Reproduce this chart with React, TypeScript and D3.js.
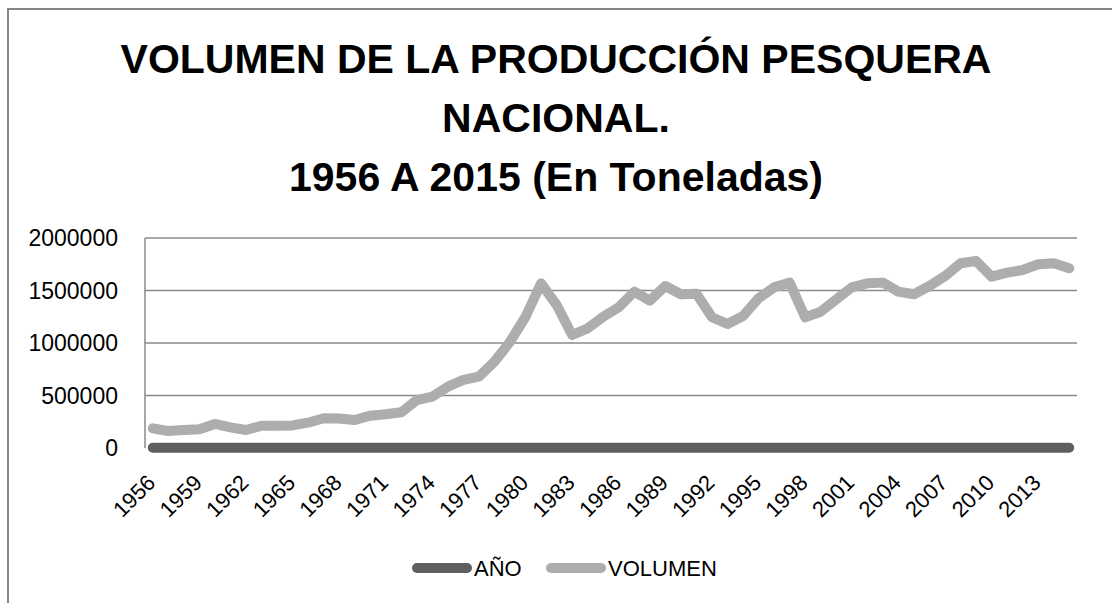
import React from 'react';
import * as d3 from 'd3';

const titleLines = ['VOLUMEN DE LA PRODUCCIÓN PESQUERA', 'NACIONAL.', '1956 A 2015 (En Toneladas)'];

const years = [
  1956, 1957, 1958, 1959, 1960, 1961, 1962, 1963, 1964, 1965,
  1966, 1967, 1968, 1969, 1970, 1971, 1972, 1973, 1974, 1975,
  1976, 1977, 1978, 1979, 1980, 1981, 1982, 1983, 1984, 1985,
  1986, 1987, 1988, 1989, 1990, 1991, 1992, 1993, 1994, 1995,
  1996, 1997, 1998, 1999, 2000, 2001, 2002, 2003, 2004, 2005,
  2006, 2007, 2008, 2009, 2010, 2011, 2012, 2013, 2014, 2015,
];

// AÑO series: the year itself (plotted as a value, sits on the zero line)
const anio = [
  1956, 1957, 1958, 1959, 1960, 1961, 1962, 1963, 1964, 1965,
  1966, 1967, 1968, 1969, 1970, 1971, 1972, 1973, 1974, 1975,
  1976, 1977, 1978, 1979, 1980, 1981, 1982, 1983, 1984, 1985,
  1986, 1987, 1988, 1989, 1990, 1991, 1992, 1993, 1994, 1995,
  1996, 1997, 1998, 1999, 2000, 2001, 2002, 2003, 2004, 2005,
  2006, 2007, 2008, 2009, 2010, 2011, 2012, 2013, 2014, 2015,
];

const volumen = [
  187000, 162000, 171000, 178000, 229000, 197000, 171000, 212000, 212000, 215000,
  241000, 283000, 280000, 267000, 308000, 321000, 340000, 457000, 489000, 584000,
  648000, 679000, 822000, 1012000, 1250000, 1568000, 1362000, 1076000, 1140000, 1250000,
  1340000, 1489000, 1403000, 1543000, 1464000, 1470000, 1245000, 1181000, 1257000, 1426000,
  1530000, 1575000, 1245000, 1298000, 1416000, 1530000, 1568000, 1575000, 1489000, 1464000,
  1543000, 1638000, 1759000, 1781000, 1632000, 1670000, 1695000, 1750000, 1759000, 1711000,
];

const yTicks = [0, 500000, 1000000, 1500000, 2000000];
const seriesNames = ['AÑO', 'VOLUMEN'];
const seriesColors = ['#5f5f5f', '#adadad'];

const W = 1112, H = 603;
const left = 145, right = 1077, top = 238, bottom = 448;
const font = '"Liberation Sans", Arial, sans-serif';

export default function App() {
  const x = d3.scaleBand<number>().domain(years).range([left, right]);
  const y = d3.scaleLinear().domain([0, 2000000]).range([bottom, top]);
  const cx = (yr: number) => (x(yr) as number) + x.bandwidth() / 2;

  const line = d3.line<number>()
    .x((_, i) => cx(years[i]))
    .y(d => y(d));

  const series = [anio, volumen];
  const xLabels = years.filter((_, i) => i % 3 === 0);

  return (
    <svg width={W} height={H} style={{ position: 'absolute', left: 0, top: 0, background: '#fff' }} fontFamily={font}>
      <rect x={8} y={9} width={1300} height={800} fill="#fff" stroke="#868686" strokeWidth={2} />

      {titleLines.map((t, i) => (
        <text key={t} x={W / 2} y={73 + i * 59} textAnchor="middle" fontSize={41} fontWeight="bold" fill="#000">{t}</text>
      ))}

      {yTicks.map(t => (
        <g key={t}>
          {t > 0 && <line x1={left} x2={right} y1={y(t)} y2={y(t)} stroke="#8a8a8a" strokeWidth={1.5} />}
          <text x={118} y={y(t)} dy="0.35em" textAnchor="end" fontSize={23} fill="#000">{t}</text>
        </g>
      ))}
      <line x1={left} x2={left} y1={top} y2={bottom} stroke="#8a8a8a" strokeWidth={1.5} />

      {xLabels.map(yr => (
        <text key={yr} transform={`translate(${cx(yr) + 4},484) rotate(-45)`} textAnchor="end" fontSize={22} fill="#000">{yr}</text>
      ))}

      {series.map((s, i) => (
        <path key={seriesNames[i]} d={line(s) as string} fill="none" stroke={seriesColors[i]} strokeWidth={10}
          strokeLinejoin="round" strokeLinecap="round" />
      ))}

      {seriesNames.map((n, i) => {
        const lx = i === 0 ? 417 : 551;
        return (
          <g key={n}>
            <line x1={lx} x2={lx + 50} y1={568} y2={568} stroke={seriesColors[i]} strokeWidth={10} strokeLinecap="round" />
            <text x={lx + 57} y={576} fontSize={22} fill="#000">{n}</text>
          </g>
        );
      })}
    </svg>
  );
}
